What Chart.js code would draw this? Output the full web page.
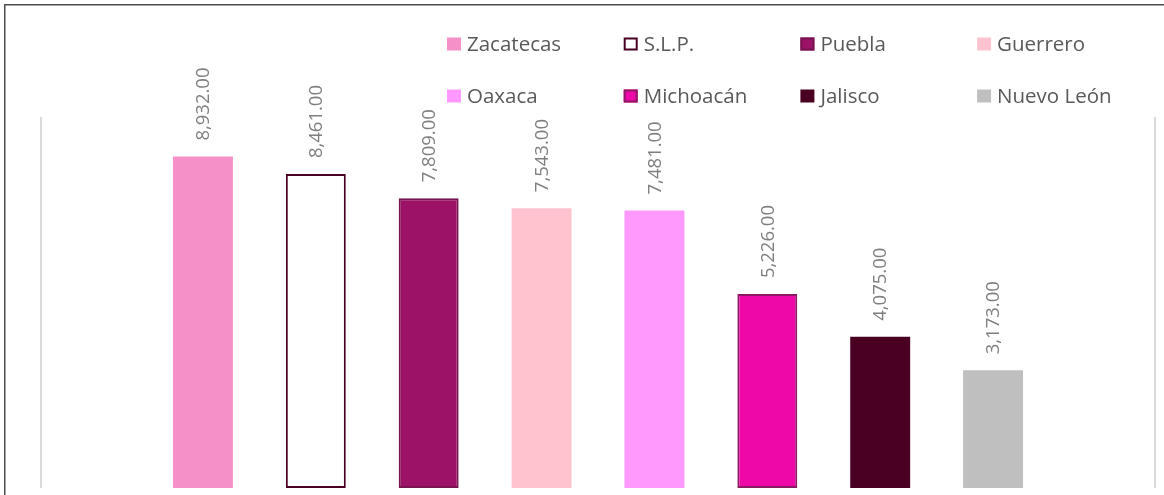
<!DOCTYPE html>
<html><head><meta charset="utf-8">
<script src="https://cdn.jsdelivr.net/npm/chart.js@4/dist/chart.umd.min.js"></script>
<style>html,body{margin:0;padding:0;background:#fff;overflow:hidden}#wrap{width:1164px;height:495px;position:relative}</style>
</head><body><div id="wrap"><canvas id="c" width="1164" height="495"></canvas></div>
<script>
const categories = [''];
const seriesNames = ['Zacatecas', 'S.L.P.', 'Puebla', 'Guerrero', 'Oaxaca', 'Michoacán', 'Jalisco', 'Nuevo León'];
const seriesValues = [8932, 8461, 7809, 7543, 7481, 5226, 4075, 3173];
const yTicks = [0, 10000];

const fillColors = ['#f590c8', '#ffffff', '#9b1266', '#ffc3cf', '#ff99fd', '#ee08a7', '#4a0020', '#bfbfbf'];
const borderColors = ['#f590c8', '#4a0020', '#7a1450', '#ffc3cf', '#ff99fd', '#8c1a62', '#4a0020', '#bfbfbf'];
const borderWidths = [0, 2, 2, 0, 0, 2, 0, 0];

const fmt = v => v.toLocaleString('en-US', {minimumFractionDigits: 2, maximumFractionDigits: 2});

const datasets = seriesNames.map((name, i) => ({
  label: name,
  data: [seriesValues[i]],
  backgroundColor: fillColors[i],
  borderColor: borderColors[i],
  borderWidth: borderWidths[i],
  borderSkipped: false,
  categoryPercentage: 0.8106,
  barPercentage: 0.531
}));

const framePlugin = {
  id: 'frame',
  afterDraw(chart) {
    const ctx = chart.ctx;
    ctx.save();
    ctx.strokeStyle = '#4d4d4d';
    ctx.lineWidth = 1.5;
    ctx.strokeRect(4.75, 4.75, 1200, 600);
    ctx.restore();
  }
};

const labelPlugin = {
  id: 'valueLabels',
  afterDatasetsDraw(chart) {
    const ctx = chart.ctx;
    ctx.save();
    ctx.font = '18.5px "Open Sans", "Liberation Sans", sans-serif';
    ctx.fillStyle = '#7f7f7f';
    ctx.textAlign = 'left';
    ctx.textBaseline = 'middle';
    chart.data.datasets.forEach((ds, i) => {
      const meta = chart.getDatasetMeta(i);
      meta.data.forEach((bar, j) => {
        const txt = fmt(ds.data[j]);
        ctx.save();
        ctx.translate(bar.x + 1, bar.y - 16);
        ctx.rotate(-Math.PI / 2);
        ctx.fillText(txt, 0, 0);
        ctx.restore();
      });
    });
    ctx.restore();
  }
};

const legendPlugin = {
  id: 'gridLegend',
  afterDraw(chart) {
    const ctx = chart.ctx;
    ctx.save();
    ctx.font = '20.5px "Open Sans", "Liberation Sans", sans-serif';
    ctx.textBaseline = 'middle';
    ctx.textAlign = 'left';
    chart.data.datasets.forEach((ds, i) => {
      const col = i % 4, row = Math.floor(i / 4);
      const bx = 447 + col * 176.7;
      const cy = 44 + row * 52;
      ctx.fillStyle = ds.backgroundColor;
      ctx.fillRect(bx, cy - 6.5, 14, 13);
      if (ds.borderWidth > 0) {
        ctx.strokeStyle = ds.borderColor;
        ctx.lineWidth = 2;
        ctx.strokeRect(bx + 1, cy - 5.5, 12, 11);
      }
      ctx.fillStyle = '#595959';
      ctx.fillText(ds.label, bx + 20, cy + 1);
    });
    ctx.restore();
  }
};

new Chart(document.getElementById('c'), {
  type: 'bar',
  data: { labels: categories, datasets },
  options: {
    responsive: false,
    animation: false,
    devicePixelRatio: 1,
    layout: { padding: { left: 41, right: 9, top: 117, bottom: 7 } },
    plugins: { legend: { display: false }, tooltip: { enabled: false } },
    scales: {
      x: {
        display: true,
        offset: true,
        ticks: { display: false },
        border: { display: false },
        grid: { display: true, offset: true, drawTicks: false, color: '#d9d9d9', lineWidth: 2 }
      },
      y: {
        display: false,
        min: yTicks[0],
        max: yTicks[yTicks.length - 1]
      }
    }
  },
  plugins: [labelPlugin, legendPlugin, framePlugin]
});
</script>
</body></html>
